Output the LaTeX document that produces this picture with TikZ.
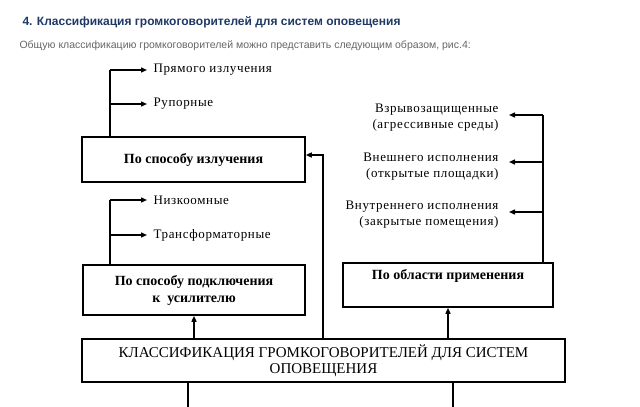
\documentclass[tikz,border=0pt]{standalone}
\usepackage{fontspec}
\setmainfont{Liberation Serif}
\newfontfamily\hsans{Liberation Sans}
\newfontfamily\spaced[LetterSpace=5]{Liberation Serif}
\usetikzlibrary{arrows.meta}
\definecolor{hblue}{HTML}{1F3864}
\definecolor{hgray}{HTML}{666666}
\begin{document}
\begin{tikzpicture}[x=1pt,y=-1pt,
  box/.style={draw,line width=1.6pt,minimum width=#1,inner sep=0pt},
  ln/.style={line width=1.4pt},
  arr/.style={ln,-{Triangle[length=6pt,width=5pt]}},
  lbl/.style={anchor=west,font=\spaced\fontsize{13}{14}\selectfont},
  rlbl/.style={anchor=east,align=right,font=\spaced\fontsize{13}{16}\selectfont},
  btxt/.style={font=\fontsize{14}{17}\selectfont\bfseries,align=center}]
\useasboundingbox (0,0) rectangle (640,407);
\node[anchor=west,font=\hsans\bfseries\fontsize{12}{13}\selectfont,text=hblue] (h) at (19,22) {4. Классификация громкоговорителей для систем оповещения};
\node[anchor=west,font=\hsans\fontsize{10.5}{11}\selectfont,text=hgray] (s) at (16,46) {Общую классификацию громкоговорителей можно представить следующим образом, рис.4:};
% boxes
\node[box=223pt,minimum height=45pt,btxt] (b1) at (193.5,159.5) {По способу излучения};
\node[box=222pt,minimum height=50pt,btxt] (b2) at (194,290) {По способу подключения\\к~ усилителю};
\node[box=210pt,minimum height=44pt] (b3) at (448,285) {};
\node[btxt] (b3t) at (b3.center |- 0,276) {По области применения};
\node[box=483pt,minimum height=43pt,font=\fontsize{15}{16}\selectfont,align=center] (m) at (323.5,360.5) {КЛАССИФИКАЦИЯ ГРОМКОГОВОРИТЕЛЕЙ ДЛЯ СИСТЕМ\\ОПОВЕЩЕНИЯ};
% left labels
\node[lbl] (l1) at (150,70) {Прямого излучения};
\node[lbl] (l2) at (150,104) {Рупорные};
\node[lbl] (l3) at (150,200) {Низкоомные};
\node[lbl] (l4) at (150,235) {Трансформаторные};
\node[rlbl] (r1) at (502,118) {Взрывозащищенные\\(агрессивные среды)};
\node[rlbl] (r2) at (502,167) {Внешнего исполнения\\(открытые площадки)};
\node[rlbl] (r3) at (502,215) {Внутреннего исполнения\\(закрытые помещения)};
% coordinates
\coordinate (t1) at (110,70); \coordinate (t2) at (110,104);
\coordinate (t3) at (110,200); \coordinate (t4) at (110,235);
\coordinate (tr1) at (543,115); \coordinate (tr2) at (543,162); \coordinate (tr3) at (543,212);
\draw[ln] (b1.north -| t1) -- (t1);
\draw[arr] (t1) -- ([xshift=-3pt]l1.west);
\draw[arr] (t2) -- ([xshift=-3pt]l2.west);
\draw[ln] (b2.north -| t3) -- (t3);
\draw[arr] (t3) -- ([xshift=-3pt]l3.west);
\draw[arr] (t4) -- ([xshift=-3pt]l4.west);
\draw[ln] (b3.north -| tr1) -- (tr1);
\draw[arr] (tr1) -- ([xshift=7pt]r1.east |- tr1);
\draw[arr] (tr2) -- ([xshift=7pt]r2.east |- tr2);
\draw[arr] (tr3) -- ([xshift=7pt]r3.east |- tr3);
\draw[arr] (m.north -| b2) -- (b2.south);
\draw[arr] (m.north -| b3) -- (b3.south);
\draw[arr] (m.north -| 323,0) |- (b1.east |- 0,155);
\coordinate (e1) at (188,407); \coordinate (e2) at (453,407);
\draw[ln] (m.south -| e1) -- (e1);
\draw[ln] (m.south -| e2) -- (e2);
\end{tikzpicture}
\end{document}
